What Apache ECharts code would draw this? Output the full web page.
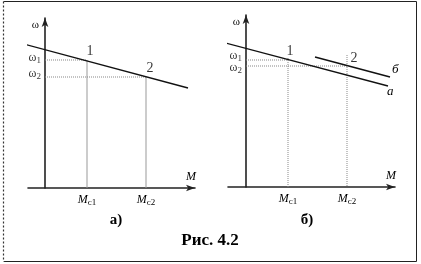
<!DOCTYPE html>
<html><head><meta charset="utf-8">
<script src="https://cdn.jsdelivr.net/npm/echarts@6/dist/echarts.min.js"></script>
<style>html,body{margin:0;padding:0;background:#fff}#c{width:421px;height:264px}</style>
</head><body><div id="c"></div>
<script>
// ---- data (axis units: M to the right of the ω axis, ω above the M axis) ----
const pointNames = ['1', '2'];
const xTickValues = [42, 101];
const xTickLabels = ['c1', 'c2'];
const yTickLabels = ['1', '2'];
// left chart (а)
const leftLineA = [[-25, 145], [143, 100]];
const leftPoints = [[42, 128], [101, 111]];
// right chart (б)
const rightLineA = [[-24, 145], [142, 101]];
const rightLineB = [[69, 130], [144, 110]];
const rightPoints = [[42, 127], [101, 121]];
const rightGuideTop = [129, 132];

const FONT = 'Liberation Serif';
const INK = '#000';
const chart = echarts.init(document.getElementById('c'));

function xAxisFor(gridIndex, min, max) {
  return {
    type: 'value', gridIndex, min, max,
    splitLine: {show: false}, axisTick: {show: false},
    axisLine: {onZero: true, lineStyle: {color: '#222', width: 1.6}, symbol: ['none', 'arrow'], symbolSize: [5, 9]},
    name: 'M', nameLocation: 'end', nameGap: -4,
    nameTextStyle: {fontFamily: FONT, fontStyle: 'italic', fontSize: 12, color: INK, align: 'center', verticalAlign: 'bottom', padding: [0, 0, 5, 0]},
    axisLabel: {
      customValues: xTickValues, margin: 5, color: INK, fontFamily: FONT,
      formatter: v => '{m|M}{s|' + xTickLabels[xTickValues.indexOf(v)] + '}',
      rich: {m: {fontFamily: FONT, fontStyle: 'italic', fontSize: 12, color: INK},
             s: {fontFamily: FONT, fontSize: 9, color: INK, padding: [5, 0, 0, 0]}}
    }
  };
}
function yAxisFor(gridIndex, max) {
  return {
    type: 'value', gridIndex, min: 0, max,
    splitLine: {show: false}, axisTick: {show: false}, axisLabel: {show: false},
    axisLine: {onZero: true, lineStyle: {color: '#222', width: 1.6}, symbol: ['none', 'arrow'], symbolSize: [5, 9]},
    name: 'ω', nameLocation: 'end', nameGap: -2,
    nameTextStyle: {fontFamily: FONT, fontSize: 11, color: INK, align: 'right', verticalAlign: 'top', padding: [0, 6, 0, 0]}
  };
}

const guideStyle = {color: '#888', width: 1, type: [1, 1]};
function guideSeries(xi, yi, pts, vStyle, vTops) {
  const out = [];
  pts.forEach((p, i) => {
    out.push({type: 'line', xAxisIndex: xi, yAxisIndex: yi, data: [[0, p[1]], [p[0], p[1]]], symbol: 'none', silent: true, lineStyle: guideStyle, z: 1});
    out.push({type: 'line', xAxisIndex: xi, yAxisIndex: yi, data: [[p[0], vTops ? vTops[i] : p[1]], [p[0], 0]], symbol: 'none', silent: true, lineStyle: vStyle, z: 1});
  });
  return out;
}
function mainLine(xi, yi, data, name, off) {
  return {type: 'line', xAxisIndex: xi, yAxisIndex: yi, data, symbol: 'none', clip: false, silent: true,
    lineStyle: {color: '#111', width: 1.3}, z: 3,
    endLabel: name ? {show: true, formatter: name, offset: off, fontFamily: FONT, fontStyle: 'italic', fontSize: 13, color: INK} : {show: false}};
}
function pointLabels(xi, yi, pts, offs) {
  return {type: 'scatter', xAxisIndex: xi, yAxisIndex: yi, symbolSize: 0, silent: true, z: 4,
    data: pts.map((p, i) => ({value: p, label: {show: true, formatter: pointNames[i], position: 'top', distance: 2, offset: offs[i],
      fontFamily: FONT, fontSize: 14, color: INK}}))};
}
function omegaLabels(xi, yi, pts, offs) {
  return {type: 'scatter', xAxisIndex: xi, yAxisIndex: yi, symbolSize: 0, silent: true, z: 4,
    data: pts.map((p, i) => ({value: [0, p[1]], label: {show: true, position: 'left', distance: 4, offset: offs[i],
      formatter: '{w|ω}{s|' + yTickLabels[i] + '}',
      rich: {w: {fontFamily: FONT, fontSize: 12, color: INK},
             s: {fontFamily: FONT, fontSize: 9, color: INK, padding: [5, 0, 0, 0]}}}}))};
}

const option = {
  animation: false,
  backgroundColor: '#fff',
  grid: [
    {left: 28, top: 18, width: 167, height: 170},
    {left: 228, top: 15, width: 167, height: 172}
  ],
  xAxis: [xAxisFor(0, -17, 150), xAxisFor(1, -18, 149)],
  yAxis: [yAxisFor(0, 170), yAxisFor(1, 172)],
  series: [
    ...guideSeries(0, 0, leftPoints, {color: '#999', width: 1}),
    mainLine(0, 0, leftLineA, null),
    pointLabels(0, 0, leftPoints, [[3, 0], [4, 0]]),
    omegaLabels(0, 0, leftPoints, [[0, -2], [0, -3]]),
    ...guideSeries(1, 1, rightPoints, guideStyle, rightGuideTop),
    mainLine(1, 1, rightLineA, 'а', [-9, 6]),
    mainLine(1, 1, rightLineB, 'б', [-6, -7]),
    pointLabels(1, 1, rightPoints, [[2, 0], [7, 1]]),
    omegaLabels(1, 1, rightPoints, [[0, -4], [0, 2]])
  ],
  graphic: [
    {type: 'rect', shape: {x: 3.5, y: 1.5, width: 413, height: 260}, style: {fill: 'none', stroke: '#222', lineWidth: 1}, silent: true},
    {type: 'line', shape: {x1: 3.5, y1: 1.5, x2: 3.5, y2: 261.5}, style: {stroke: '#fff', lineWidth: 1.2}, silent: true},
    {type: 'line', shape: {x1: 3.5, y1: 1.5, x2: 3.5, y2: 261.5}, style: {stroke: '#333', lineWidth: 1.2, lineDash: [2, 2]}, silent: true},
    {type: 'text', x: 116, y: 220, style: {text: 'а)', font: 'bold 15px "Liberation Serif"', fill: INK, align: 'center', verticalAlign: 'middle'}},
    {type: 'text', x: 307, y: 220, style: {text: 'б)', font: 'bold 15px "Liberation Serif"', fill: INK, align: 'center', verticalAlign: 'middle'}},
    {type: 'text', x: 210, y: 241, style: {text: 'Рис. 4.2', font: 'bold 17px "Liberation Serif"', fill: INK, align: 'center', verticalAlign: 'middle'}}
  ]
};
chart.setOption(option);
</script></body></html>
